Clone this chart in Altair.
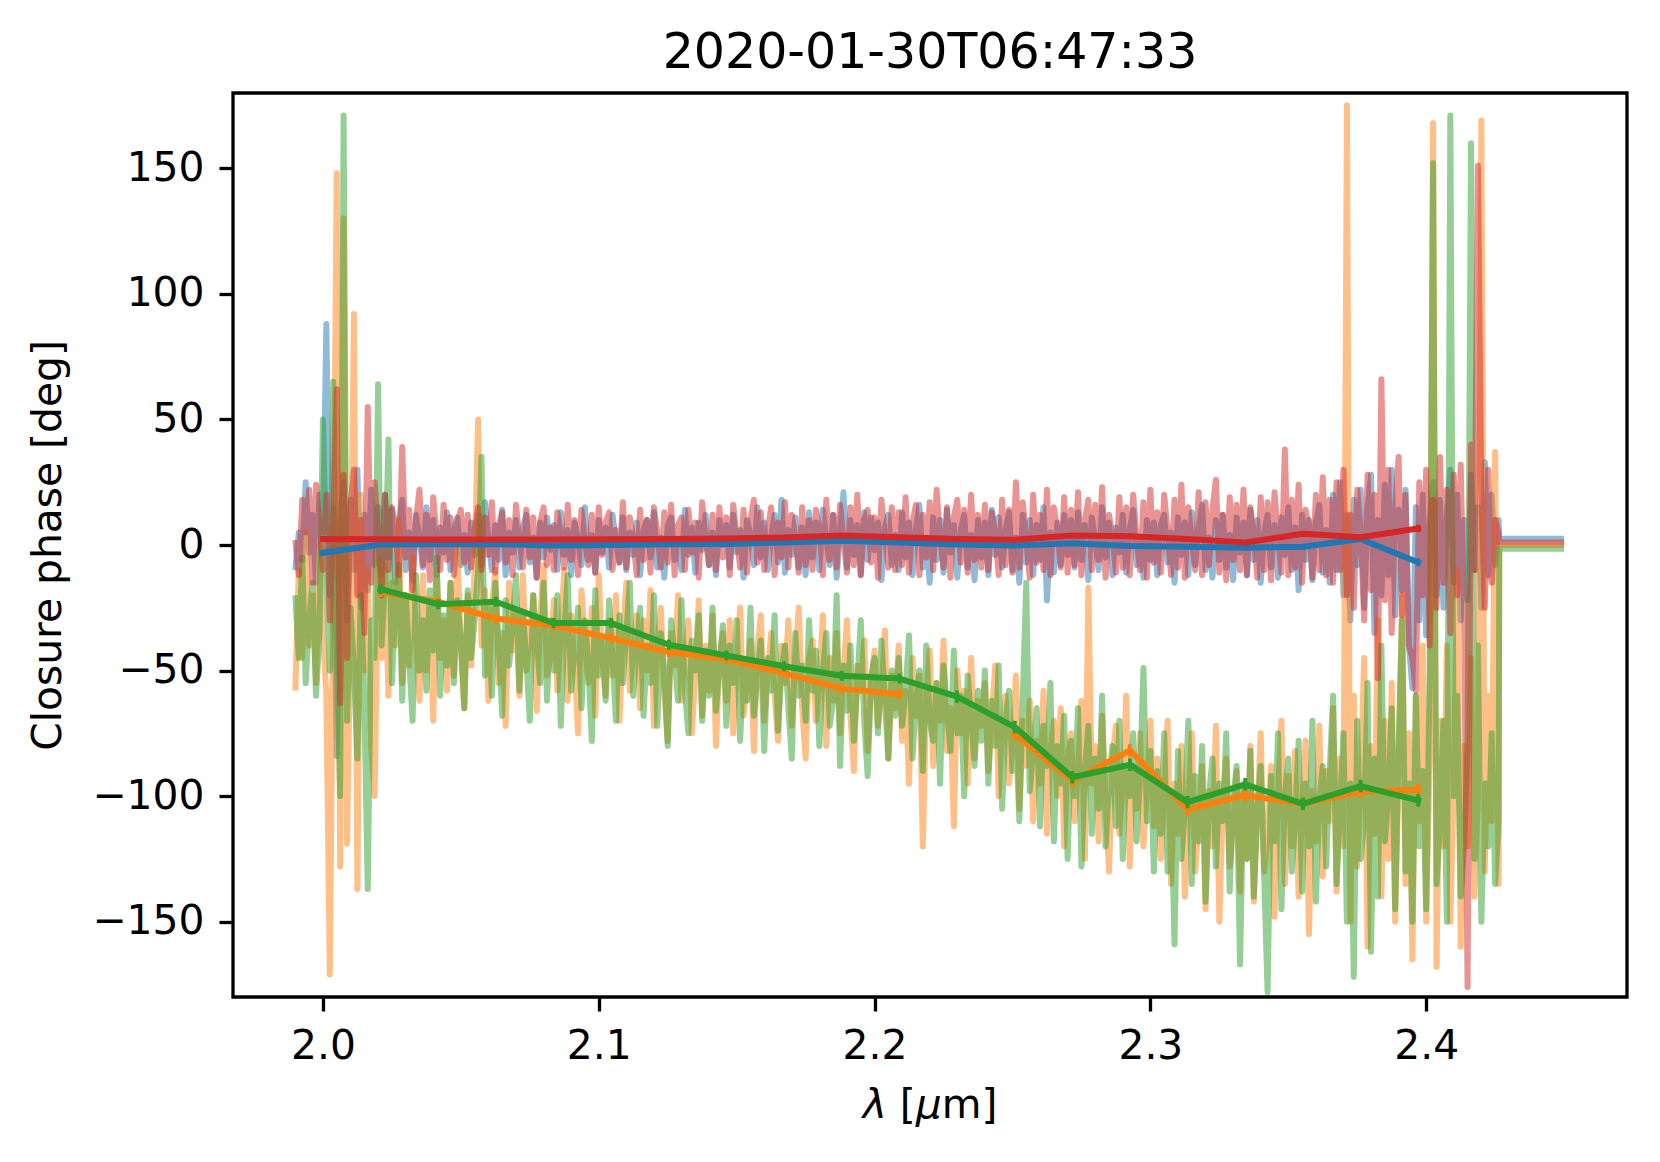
import altair as alt
import pandas as pd

# ---------------- data ----------------
# noisy closure phases: rows of 25 channels, each row spans 0.03125 um
row_start = 1.990     # first channel [um]
row_span = 0.03125    # wavelength covered by one row [um]
chan_step = 0.00125   # channel spacing [um]

blue_rows = [
    [-10, 5, -6, 25, -3, 12, -15, 20, 5, 88, -20, 15, -84, 10, 25, -30, 18, -10, 30, -25, 12, -18, 22, -8, 15],
    [-12, 20, -5, 14, -15, 8, 18, -10, 5, -14, 12, 3, -9, 15, -6, 10, -12, 7, -3, 13, -10, 6, 11, -8, 4],
    [-11, 9, -4, 12, -8, 17, 2, -10, 8, -6, 14, -12, 5, -3, 10, -9, 7, 12, -7, 3, -13, 9, -5, 11, -2],
    [8, -10, 13, -4, 6, -12, 9, 2, -8, 15, -6, 4, -11, 10, -3, 7, -9, 12, 1, -7, 11, -10, 5, -4, 9],
    [-12, 6, 10, -5, 13, -9, 3, -13, 8, 11, -6, 2, -10, 14, -4, 7, -11, 9, -2, 12, -8, 5, -12, 10, 0],
    [8, -9, 12, -3, 6, -13, 10, 4, -8, 15, -5, 9, -10, 3, 12, -7, 18, -11, 6, -4, 11, -9, 7, -12, 13],
    [-5, 9, -10, 14, 3, -8, 12, -13, 6, 21, -9, 10, -4, 8, -12, 13, -6, 11, -2, 9, -14, 7, 12, -8, 4],
    [-10, 13, -5, 9, -12, 6, 16, -9, 3, -15, 11, -6, 10, -11, 14, -3, 8, -13, 6, 12, -9, 4, -14, 10, -5],
    [9, -12, 14, -4, 11, -9, 6, 13, -10, 3, -15, 12, -7, 10, -12, 8, -6, 15, -22, 5, -11, 9, -8, 12, -4],
    [10, -9, 13, -6, 8, -14, 11, 2, -10, 15, -5, 9, -12, 7, -3, 12, -11, 6, 14, -8, 3, -13, 10, -6, 9],
    [-12, 8, 12, -7, 5, -15, 11, -4, 9, -12, 13, -8, 6, 16, -10, 3, -13, 10, -6, 12, -9, 4, -14, 11, -3],
    [9, -12, 14, -6, 10, -15, 5, 12, -9, 8, -13, 11, -4, 15, -10, 7, -18, 12, -6, 10, -14, 9, 16, -11, 6],
    [-15, 20, -10, 25, -20, 12, -30, 18, -8, 22, -25, 15, 28, -35, 10, -20, 24, -12, 30, -28, 14, -18, 22, -40, -57],
    [15, -30, 20, -36, 8, 25, -20, 18, -25, 12, 30, -15, 20, -30, 10, -22, 28, -10, 15, -25, 33, -12, 20, -8, 10],
]
orange_rows = [
    [-58, -10, -45, 5, -40, -20, -55, 0, -35, -60, -171, -20, 148, -128, 130, -119, -30, 92, -137, 20, -50, -10, -80, -100, -5],
    [-45, -8, -60, -15, -40, 10, -55, -20, -48, -5, -38, -62, -12, -50, -25, -70, -10, -45, -30, -58, -15, -52, -2, -40, -65],
    [-20, -48, -8, 50, -40, -18, -62, -25, -10, -55, -35, -72, -15, -42, -28, -60, -12, -50, -38, -20, -66, -30, -8, -52, -45],
    [-22, -58, -35, -10, -62, -28, -48, -75, -18, -40, -55, -25, -68, -12, -45, -60, -30, -52, -20, -70, -38, -15, -58, -42, -28],
    [-65, -30, -50, -18, -72, -40, -25, -58, -78, -35, -48, -20, -62, -45, -30, -75, -52, -22, -68, -40, -58, -28, -80, -45, -35],
    [-62, -30, -75, -48, -25, -68, -55, -38, -82, -42, -28, -70, -52, -35, -60, -78, -40, -55, -30, -72, -48, -25, -65, -85, -45],
    [-38, -70, -55, -28, -80, -45, -62, -35, -75, -50, -30, -68, -90, -48, -58, -38, -82, -55, -42, -72, -60, -34, -85, -52, -65],
    [-40, -78, -58, -95, -45, -68, -52, -120, -60, -42, -88, -55, -70, -38, -82, -65, -112, -50, -75, -58, -95, -45, -85, -62, -72],
    [-55, -90, -68, -48, -100, -72, -60, -95, -80, -52, -105, -70, -88, -62, -110, -78, -95, -58, -115, -82, -70, -100, -65, -120, -85],
    [-75, -110, -90, -62, -125, -17, -95, -80, -118, -68, -102, -130, -85, -72, -115, -95, -60, -128, -88, -105, -75, -120, -98, -70, -112],
    [-85, -125, -100, -70, -135, -95, -115, -80, -140, -105, -75, -130, -110, -88, -145, -98, -120, -72, -150, -102, -85, -128, -112, -90, -138],
    [-95, -125, -80, -142, -108, -75, -130, -115, -88, -148, -100, -70, -135, -92, -120, -82, -140, -105, -78, -155, -98, -118, -72, -132, -90],
    [-110, -65, -138, -85, -120, 175, -150, -60, -128, -95, -45, -160, -80, -115, -30, -140, -70, -125, -55, -150, -90, -20, -135, -75, -165],
    [-60, -110, -40, -150, -85, 168, -168, -70, -120, -40, -150, -95, -10, -160, -80, -120, -45, -140, -100, 169, -130, -60, -110, 37, -135],
]
green_rows = [
    [-20, -45, -5, -55, -30, -15, -60, -35, 50, -10, -50, 65, -40, -100, 171, -70, -25, -50, -85, -20, -60, -137, -30, -45, 64],
    [-40, -15, 42, -55, -25, -8, -62, -20, -45, -70, -12, -50, -30, -58, -18, -42, -5, -60, -28, -48, -15, -55, -22, -38, -65],
    [-18, -45, -30, -10, 35, -52, -25, -60, -15, -40, -68, -22, -48, -32, -12, -58, -28, -45, -70, -20, -38, -55, -15, -62, -30],
    [-50, -20, -72, -35, -12, -58, -42, -25, -65, -30, -48, -78, -18, -52, -38, -62, -22, -45, -70, -28, -55, -35, -15, -60, -42],
    [-25, -68, -40, -55, -20, -72, -35, -50, -80, -30, -45, -62, -22, -58, -75, -38, -50, -28, -70, -42, -60, -25, -66, -48, -32],
    [-72, -40, -55, -30, -78, -48, -62, -25, -68, -52, -38, -82, -45, -58, -28, -74, -50, -40, -65, -85, -35, -60, -48, -70, -30],
    [-58, -42, -80, -50, -35, -72, -62, -20, -88, -48, -66, -40, -78, -55, -30, -70, -92, -52, -45, -75, -38, -62, -85, -50, -68],
    [-45, -72, -58, -36, -85, -62, -50, -90, -40, -70, -78, -55, -95, -48, -65, -82, -42, -75, -60, -100, -52, -68, -88, -58, -78],
    [-50, -95, -62, -80, -48, -105, -70, -58, -90, -75, -110, -60, -15, -98, -82, -65, -112, -72, -88, -55, -118, -80, -95, -68, -125],
    [-78, -100, -65, -128, -90, -72, -115, -85, -105, -60, -120, -95, -80, -112, -70, -125, -88, -100, -75, -118, -92, -49, -110, -82, -130],
    [-90, -115, -75, -130, -98, -159, -82, -125, -105, -70, -135, -92, -118, -80, -142, -100, -85, -128, -95, -110, -75, -138, -102, -88, -167],
    [-98, -125, -82, -140, -105, -88, -132, -178, -92, -118, -75, -145, -100, -85, -130, -110, -78, -138, -95, -120, -70, -142, -102, -88, -128],
    [-90, -60, -135, -105, -75, -150, -95, -172, -70, -125, -110, -55, -162, -85, -140, -40, -118, -100, -65, -145, -80, -30, -130, -95, -150],
    [-60, -120, -90, -145, -50, 152, -135, -110, -70, -150, 171, -100, -60, -140, -120, -80, 160, -125, -40, -150, -95, -120, -75, -135, -110],
]
red_rows = [
    [2, -12, 18, 5, 22, -15, 24, 8, -10, 20, -30, 10, 62, -63, 28, -45, 15, 30, -20, 10, -35, 55, -15, 25, 5],
    [-20, 20, -10, 15, 8, -12, 39, -5, 14, -18, 10, 22, -8, 12, -14, 19, 3, -10, 16, -6, 11, -12, 9, 14, -7],
    [12, -9, 6, 15, -10, 11, -4, 17, -11, 8, 13, -7, 10, -12, 16, 2, -9, 14, -5, 11, -13, 9, 15, -8, 7],
    [-10, 13, 4, -9, 16, -6, 10, -12, 14, 1, -8, 12, -11, 15, -4, 9, 13, -10, 6, -7, 17, -9, 11, 3, -12],
    [14, -6, 10, -11, 15, 5, -9, 13, -7, 16, -12, 8, 11, -10, 14, -3, 9, -13, 17, 2, -8, 12, -10, 15, -5],
    [11, -12, 16, 4, -9, 14, -11, 10, 18, -7, 13, -10, 6, 15, -12, 9, -5, 17, -9, 12, 3, -11, 15, -8, 10],
    [-10, 14, 7, -12, 18, -6, 12, -9, 16, 2, -11, 15, -8, 20, -12, 10, 14, -7, 11, -13, 18, 4, -9, 15, -10],
    [13, -8, 19, -11, 9, 16, -12, 12, -5, 17, -10, 22, 3, -9, 15, -13, 11, 18, -7, 14, -11, 20, -6, 12, -9],
    [16, -10, 13, 5, -12, 18, -8, 14, -11, 25, -9, 17, 2, -13, 20, -7, 12, -10, 22, -12, 15, 6, -9, 19, -11],
    [14, -8, 21, -12, 10, 18, -10, 16, -6, 23, -13, 12, 4, -11, 19, -9, 15, -12, 20, 3, -10, 17, -13, 22, -7],
    [13, -11, 20, 6, -12, 18, -9, 24, -13, 15, 2, -10, 21, -12, 17, -8, 14, 26, -11, 12, -14, 19, -6, 16, -10],
    [22, -12, 15, 5, -13, 19, -10, 17, -14, 21, 4, -11, 38, -12, 18, -9, 24, -15, 14, 8, -13, 20, -10, 27, -12],
    [18, -15, 25, -10, 30, -20, 12, -25, 22, 5, -30, 28, -18, 20, -53, 66, -22, 30, -35, 15, 35, -28, 20, -40, -45],
    [-58, 25, -20, 30, -40, 18, -25, 35, -15, 22, -35, 28, -20, 32, -30, -176, 40, -10, 151, 20, -25, 30, -15, 10, 5],
]

# flat part after the last channel
tail_x = [2.4265, 2.4500]
tail_blue, tail_orange, tail_green, tail_red = 2.5, 0.0, -1.5, 1.0

# binned closure phases (None = no value)
bin_x = [2.0000, 2.0209, 2.0418, 2.0627, 2.0836, 2.1045, 2.1254, 2.1463, 2.1672, 2.1881,
         2.2090, 2.2299, 2.2508, 2.2717, 2.2926, 2.3135, 2.3344, 2.3553, 2.3762, 2.3971]
blue_bin = [-3.1, 0.2, 0.3, 0.3, -0.2, 0.0, 0.3, 0.4, 1.0, 1.7,
            1.0, 0.2, -0.2, 0.7, -0.4, -0.7, -1.1, -0.7, 2.4, -6.9]
orange_bin = [None, -18.7, -22.6, -29.3, -32.1, -37.1, -42.6, -45.4, -51.0, -57.2,
              -59.4, None, -75.3, -93.9, -81.8, -105.3, -99.6, -103.1, -98.2, -97.5]
green_bin = [None, -17.6, -23.6, -22.6, -31.1, -31.1, -39.7, -44.0, -48.3, -52.1,
             -53.2, -60.4, -72.5, -92.5, -87.5, -102.4, -95.3, -103.1, -96.0, -101.7]
red_bin = [2.4, 2.3, 2.2, 2.2, 2.2, 2.3, 2.4, 2.6, 3.0, 3.8,
           3.1, 2.4, 2.1, 3.8, 3.5, 2.4, 1.0, 4.5, 3.1, 6.6]
blue_err = [1.2, 1.0, 1.0, 1.0, 1.0, 1.0, 1.0, 1.0, 1.0, 1.0,
            1.0, 1.0, 1.0, 1.0, 1.0, 1.0, 1.0, 1.0, 1.2, 1.5]
orange_err = [0, 2.0, 2.0, 2.0, 2.0, 2.0, 2.0, 2.0, 2.0, 2.0,
              2.0, 0, 2.5, 2.5, 2.5, 2.5, 2.5, 2.5, 2.5, 2.5]
green_err = [0, 2.0, 2.0, 2.0, 2.0, 2.0, 2.0, 2.0, 2.0, 2.0,
             2.0, 2.5, 2.5, 2.5, 2.5, 2.5, 2.5, 2.5, 2.5, 2.5]
red_err = [1.0, 1.0, 1.0, 1.0, 1.0, 1.0, 1.0, 1.0, 1.0, 1.0,
           1.0, 1.0, 1.0, 1.0, 1.0, 1.0, 1.0, 1.0, 1.2, 1.5]

title_text = "2020-01-30T06:47:33"
# x-axis title "λ [μm]" in pieces: (text, italic?, advance in em incl. following space)
x_title_parts = [("λ", True, 0.592 + 0.318), ("[", False, 0.390),
                 ("μ", True, 0.636), ("m]", False, 0.974 + 0.390)]
y_title = "Closure phase [deg]"
x_ticks = [2.0, 2.1, 2.2, 2.3, 2.4]
y_ticks = [-150, -100, -50, 0, 50, 100, 150]

COL = {"blue": "#1f77b4", "orange": "#ff7f0e", "green": "#2ca02c", "red": "#d62728"}
FONT = "DejaVu Sans"
FS = 40.8
W, H = 1394, 904

x_scale = alt.Scale(domain=[1.9674, 2.4728], nice=False, zero=False)
y_scale = alt.Scale(domain=[-180, 180], nice=False, zero=False)

x_axis = alt.Axis(values=x_ticks, format=".1f", title="",
                  grid=False, domain=False, ticks=True, tickSize=14, tickWidth=3.3,
                  tickColor="black", labelFont=FONT, labelFontSize=FS, labelColor="black",
                  labelPadding=15, labelFlush=False, labelOverlap=False)
y_axis = alt.Axis(values=y_ticks, format="d",
                  title=y_title, grid=False, domain=False, tickSize=14,
                  tickWidth=3.3, tickColor="black", labelFont=FONT, labelFontSize=FS,
                  labelColor="black", labelPadding=15, labelFlush=False, labelOverlap=False,
                  titleFont=FONT, titleFontSize=FS, titleFontWeight="normal",
                  titleColor="black", titleAngle=270, titleX=-173, titleY=H / 2,
                  titleBaseline="alphabetic", titleAlign="center")


def xenc():
    return alt.X("wl:Q", scale=x_scale, axis=x_axis)


def yenc(field="cp"):
    return alt.Y(f"{field}:Q", scale=y_scale, axis=y_axis)


def noisy(rows, tail_val, color):
    xs, ys = [], []
    for r, row in enumerate(rows):
        for j, v in enumerate(row):
            xs.append(round(row_start + row_span * r + chan_step * j, 6))
            ys.append(v)
    xs += tail_x
    ys += [tail_val, tail_val]
    df = pd.DataFrame({"wl": xs, "cp": ys, "o": list(range(len(xs)))})
    return alt.Chart(df).mark_line(
        color=color, strokeWidth=6, opacity=0.5, strokeJoin="round", clip=True
    ).encode(x=xenc(), y=yenc(), order="o:Q")


def binned(vals, errs, color):
    rows = []
    seg = 0
    for i, (xv, v, e) in enumerate(zip(bin_x, vals, errs)):
        if v is None:
            seg += 1
            continue
        rows.append({"wl": xv, "cp": v, "lo": v - e, "hi": v + e, "seg": seg, "o": i})
    df = pd.DataFrame(rows)
    line = alt.Chart(df).mark_line(
        color=color, strokeWidth=6, strokeJoin="round", strokeCap="square", clip=True
    ).encode(x=xenc(), y=yenc(), detail="seg:N", order="o:Q")
    err = alt.Chart(df).mark_rule(color=color, strokeWidth=4, clip=True).encode(
        x=xenc(), y=yenc("lo"), y2="hi:Q")
    return [line, err]


def text_mark(txt, px, py, size, align="center", italic=False):
    kw = dict(font=FONT, fontSize=size, color="black", align=align, baseline="alphabetic")
    if italic:
        kw["fontStyle"] = "italic"
    return alt.Chart(pd.DataFrame({"t": [txt]})).mark_text(**kw).encode(
        text="t:N", x=alt.value(px), y=alt.value(py))


layers = [
    noisy(blue_rows, tail_blue, COL["blue"]),
    noisy(orange_rows, tail_orange, COL["orange"]),
    noisy(green_rows, tail_green, COL["green"]),
    noisy(red_rows, tail_red, COL["red"]),
]
layers += binned(blue_bin, blue_err, COL["blue"])
layers += binned(orange_bin, orange_err, COL["orange"])
layers += binned(green_bin, green_err, COL["green"])
layers += binned(red_bin, red_err, COL["red"])

# chart title
layers.append(text_mark(title_text, W / 2, -25, 49))
# x-axis title with italic λ and μ
total = sum(a for _, _, a in x_title_parts) * FS
cx = W / 2 - total / 2
for t, it, a in x_title_parts:
    layers.append(text_mark(t, cx, H + 121, FS, align="left", italic=it))
    cx += a * FS

chart = alt.layer(*layers).properties(
    width=W,
    height=H,
    background="white",
    autosize=alt.AutoSizeParams(type="none"),
    padding={"left": 225, "top": 85, "right": 20, "bottom": 150},
).configure_view(stroke="black", strokeWidth=3.3)

chart.save("out.html", embed_options={"renderer": "svg", "actions": False})
